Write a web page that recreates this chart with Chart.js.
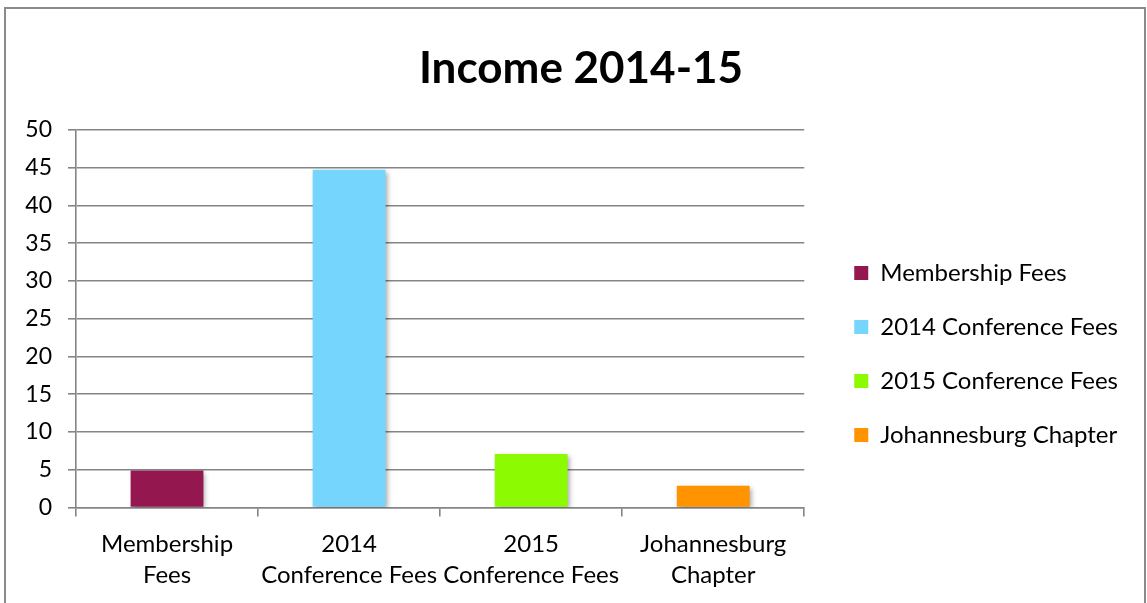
<!DOCTYPE html>
<html>
<head>
<meta charset="utf-8">
<script src="https://cdn.jsdelivr.net/npm/chart.js@4.4.1/dist/chart.umd.min.js"></script>
<style>
  html, body { margin: 0; padding: 0; background: #fff; overflow: hidden; }
  canvas { display: block; }
</style>
</head>
<body>
<canvas id="chartIncome" width="1147" height="603"></canvas>
<script>
// du lieu bieu do
const categories = ['Membership Fees', '2014 Conference Fees', '2015 Conference Fees', 'Johannesburg Chapter'];
const tickLines = [['Membership', 'Fees'], ['2014', 'Conference Fees'], ['2015', 'Conference Fees'], ['Johannesburg', 'Chapter']];
const incomeValues = [4.9, 44.7, 7.1, 2.9];
const barColors = ['#951750', '#76D5FD', '#8CFA00', '#FF9300'];
const yTicks = [0, 5, 10, 15, 20, 25, 30, 35, 40, 45, 50];

const ctxIncome = document.getElementById('chartIncome');

// khung vien ngoai + bong cho cot
const framePlugin = {
    id: 'frame',
    afterLayout: function (chart) {
        // mo rong vung ve nhan truc y sang trai (tranh bi cat chu)
        chart.scales.y.left = 0;
    },
    beforeDraw: function (chart) {
        const c = chart.ctx;
        c.save();
        c.fillStyle = '#fff';
        c.fillRect(0, 0, chart.width, chart.height);
        c.strokeStyle = '#8a8a8a';
        c.lineWidth = 2;
        c.strokeRect(5, 8, 1140, 610);
        c.restore();
    },
    beforeDatasetsDraw: function (chart) {
        const c = chart.ctx;
        c.save();
        c.shadowColor = 'rgba(0,0,0,0.35)';
        c.shadowBlur = 5;
        c.shadowOffsetX = 2;
        c.shadowOffsetY = 2;
    },
    afterDatasetsDraw: function (chart) {
        chart.ctx.restore();
    }
};

const chartIncome = new Chart(ctxIncome, {
    type: 'bar',
    data: {
        labels: tickLines,
        datasets: [{
            label: 'Income',
            data: incomeValues,
            backgroundColor: barColors,
            borderWidth: 0,
            barPercentage: 0.4,
            categoryPercentage: 1.0
        }]
    },
    options: {
        responsive: false,
        animation: false,
        layout: { padding: { left: 34, right: 19, top: 0, bottom: 0 } },
        plugins: {
            title: {
                display: true,
                text: 'Income 2014-15',
                color: '#000',
                font: { family: 'Lato', size: 44, weight: 'bold', lineHeight: 1.2 },
                padding: { top: 42, bottom: 35 }
            },
            legend: {
                position: 'right',
                align: 'start',
                maxWidth: 340,
                // tieu de rong, chi de day cac muc chu thich xuong
                title: {
                    display: true,
                    text: ' ',
                    color: '#000',
                    font: { family: 'Lato', size: 10, lineHeight: 1.2 },
                    padding: { top: 219, bottom: 0 }
                },
                labels: {
                    color: '#000',
                    font: { family: 'Lato', size: 24 },
                    boxWidth: 14,
                    boxHeight: 14,
                    padding: 30,
                    generateLabels: function () {
                        return categories.map(function (name, i) {
                            return {
                                text: name,
                                fillStyle: barColors[i],
                                strokeStyle: barColors[i],
                                fontColor: '#000',
                                lineWidth: 0,
                                hidden: false,
                                index: i,
                                datasetIndex: 0
                            };
                        });
                    }
                }
            },
            tooltip: { enabled: false }
        },
        scales: {
            x: {
                offset: true,
                grid: {
                    display: true,
                    drawOnChartArea: false,
                    drawTicks: true,
                    tickLength: 9,
                    color: '#858585',
                    lineWidth: 1.6
                },
                border: { color: '#858585', width: 1.6 },
                ticks: {
                    color: '#000',
                    font: { family: 'Lato', size: 24, lineHeight: 1.3 },
                    padding: 12,
                    maxRotation: 0,
                    autoSkip: false
                }
            },
            y: {
                min: 0,
                max: 50,
                afterBuildTicks: function (scale) {
                    scale.ticks = yTicks.map(function (v) { return { value: v }; });
                },
                afterFit: function (scale) { scale.width = 42; },
                grid: {
                    color: '#858585',
                    lineWidth: 1.6,
                    tickLength: 8
                },
                border: { color: '#858585', width: 1.6 },
                ticks: {
                    color: '#000',
                    font: { family: 'Lato', size: 23 },
                    padding: 16
                }
            },
            // truc an, chi de tao khoang cach giua bieu do va chu thich
            gap: {
                type: 'linear',
                position: 'right',
                display: false,
                afterFit: function (scale) { scale.width = 20; }
            }
        }
    },
    plugins: [framePlugin]
});
</script>
</body>
</html>
